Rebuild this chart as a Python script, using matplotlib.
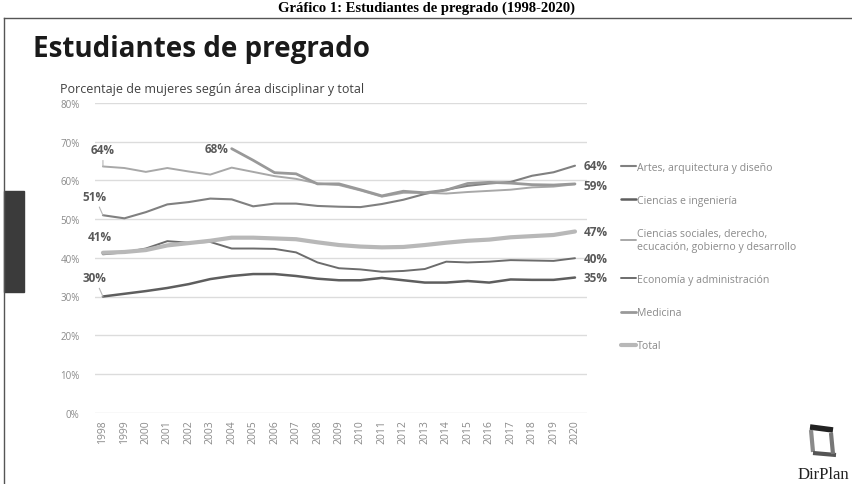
import matplotlib.pyplot as plt
from matplotlib.lines import Line2D
from matplotlib.patches import Rectangle

years = [str(y) for y in range(1998, 2021)]

artes = [51.0, 50.2, 51.8, 53.8, 54.4, 55.3, 55.1, 53.3, 54.0, 54.0, 53.4, 53.2,
         53.1, 53.9, 55.0, 56.5, 57.6, 58.6, 59.2, 59.6, 61.2, 62.1, 63.8]
ciencias = [30.0, 30.7, 31.4, 32.2, 33.2, 34.5, 35.3, 35.8, 35.8, 35.3, 34.6, 34.2,
            34.2, 34.8, 34.2, 33.6, 33.6, 34.0, 33.6, 34.4, 34.3, 34.3, 34.9]
sociales = [63.6, 63.2, 62.2, 63.2, 62.3, 61.5, 63.3, 62.2, 61.1, 60.4, 59.2, 58.8,
            57.4, 55.8, 56.8, 56.8, 56.6, 57.0, 57.3, 57.6, 58.2, 58.4, 59.0]
economia = [40.9, 41.4, 42.4, 44.3, 43.9, 44.1, 42.4, 42.4, 42.3, 41.4, 38.8, 37.3,
            37.0, 36.4, 36.6, 37.1, 39.0, 38.8, 39.0, 39.4, 39.3, 39.2, 39.9]
medicina = [None] * 6 + [68.2, 65.2, 62.0, 61.7, 59.1, 59.1, 57.6, 56.0, 57.2, 56.8,
                         57.5, 59.2, 59.5, 59.3, 58.9, 58.8, 59.1]
total = [41.3, 41.5, 42.0, 43.2, 43.8, 44.4, 45.2, 45.2, 45.0, 44.8, 44.0, 43.3,
         42.9, 42.7, 42.8, 43.3, 43.9, 44.4, 44.7, 45.3, 45.6, 45.9, 46.8]

names = ["Artes, arquitectura y diseño", "Ciencias e ingeniería",
         "Ciencias sociales, derecho,\necucación, gobierno y desarrollo",
         "Economía y administración", "Medicina", "Total"]
series = [artes, ciencias, sociales, economia, medicina, total]
colors = ["#808080", "#5e5e5e", "#a8a8a8", "#6c6c6c", "#999999", "#b8b8b8"]
widths = [1.5, 1.8, 1.4, 1.4, 2.0, 3.0]

W, H = 852, 485


def fx(px):
    return px / W


def fy(py):
    return 1 - py / H


plt.rcParams['font.family'] = ['Open Sans', 'DejaVu Sans']

fig = plt.figure(figsize=(W / 100, H / 100), dpi=100)
ax = fig.add_axes([fx(95), fy(413.6), fx(587) - fx(95), fy(104) - fy(413.6)])

x = list(range(len(years)))
for name, vals, c, lw in zip(names, series, colors, widths):
    xs = [i for i, v in zip(x, vals) if v is not None]
    ys = [v for v in vals if v is not None]
    ax.plot(xs, ys, color=c, lw=lw, label=name, solid_capstyle='round')

ax.set_xlim(-0.37, 22.56)
ax.set_ylim(0, 80)
ax.set_yticks(range(0, 81, 10))
ax.set_yticklabels([f"{v}%" for v in range(0, 81, 10)])
ax.set_xticks(x)
ax.set_xticklabels(years, rotation=90)
ax.tick_params(axis='both', length=0, labelsize=7, labelcolor='#8a8a8a')
ax.tick_params(axis='x', labelsize=7.5, pad=5)
ax.tick_params(axis='y', pad=11)
ax.yaxis.grid(True, color='#dcdcdc', lw=1)
ax.set_axisbelow(True)
for s in ax.spines.values():
    s.set_visible(False)

# labels at start and end
lead = dict(arrowstyle='-', color='#b5b5b5', lw=0.8, shrinkA=1, shrinkB=0)
lab = dict(fontsize=8.5, fontweight='bold', color='#595959', va='center')
ax.annotate("64%", xy=(0, sociales[0]), xytext=(0, 12), textcoords='offset points',
            ha='center', arrowprops=lead, **lab)
ax.annotate("68%", xy=(6, medicina[6]), xytext=(-2, 0), textcoords='offset points',
            ha='right', **lab)
ax.annotate("51%", xy=(0, artes[0]), xytext=(-6, 13.5), textcoords='offset points',
            ha='center', arrowprops=lead, **lab)
ax.annotate("41%", xy=(0, total[0]), xytext=(-2.5, 11.5), textcoords='offset points',
            ha='center', **lab)
ax.annotate("30%", xy=(0, ciencias[0]), xytext=(-6, 13.5), textcoords='offset points',
            ha='center', arrowprops=lead, **lab)
for vals, dy in [(artes, 0), (medicina, -1.5), (total, 0), (economia, 0), (ciencias, 0)]:
    ax.annotate(f"{round(vals[-1])}%", xy=(22, vals[-1]), xytext=(6, dy),
                textcoords='offset points', ha='left', **lab)

leg = ax.legend(loc='upper left', bbox_to_anchor=(fx(621), fy(163)),
                bbox_transform=fig.transFigure, frameon=False, fontsize=7.6,
                labelspacing=2.1, handlelength=1.4, handletextpad=0.1,
                borderpad=0, borderaxespad=0)
for t in leg.get_texts():
    t.set_color('#8a8a8a')

# titles
fig.text(0.5, fy(12), "Gráfico 1: Estudiantes de pregrado (1998-2020)", ha='center',
         va='baseline', fontsize=10.5, fontweight='bold', family='Liberation Serif')
fig.text(fx(33), fy(57), "Estudiantes de pregrado", fontsize=20, fontweight='bold',
         color='#1a1a1a', va='baseline')
fig.text(fx(60), fy(92.5), "Porcentaje de mujeres según área disciplinar y total",
         fontsize=9, color='#404040', va='baseline')

# page frame and side tab
fig.add_artist(Line2D([fx(4), 1], [fy(19), fy(19)], color='#555555', lw=1))
fig.add_artist(Line2D([fx(4), fx(4)], [fy(19), 0], color='#555555', lw=1))
fig.add_artist(Rectangle((fx(4), fy(293)), fx(20), 101 / H, color='#3b3b3b',
                         transform=fig.transFigure))

# DirPlan logo
for (x0, y0, x1, y1), c, w in [((810, 428, 833, 431), '#222222', 4),
                                ((811, 431, 813, 453), '#8a8a8a', 3),
                                ((813, 454, 836, 456), '#555555', 3),
                                ((831, 434, 833, 455), '#777777', 3)]:
    fig.add_artist(Line2D([fx(x0), fx(x1)], [fy(y0), fy(y1)], color=c, lw=w,
                          solid_capstyle='butt'))
fig.text(fx(823), fy(479), "DirPlan", ha='center', va='baseline', fontsize=12,
         color='#222222', family=['Liberation Serif', 'DejaVu Serif'])

fig.savefig("out.png", dpi=100)
